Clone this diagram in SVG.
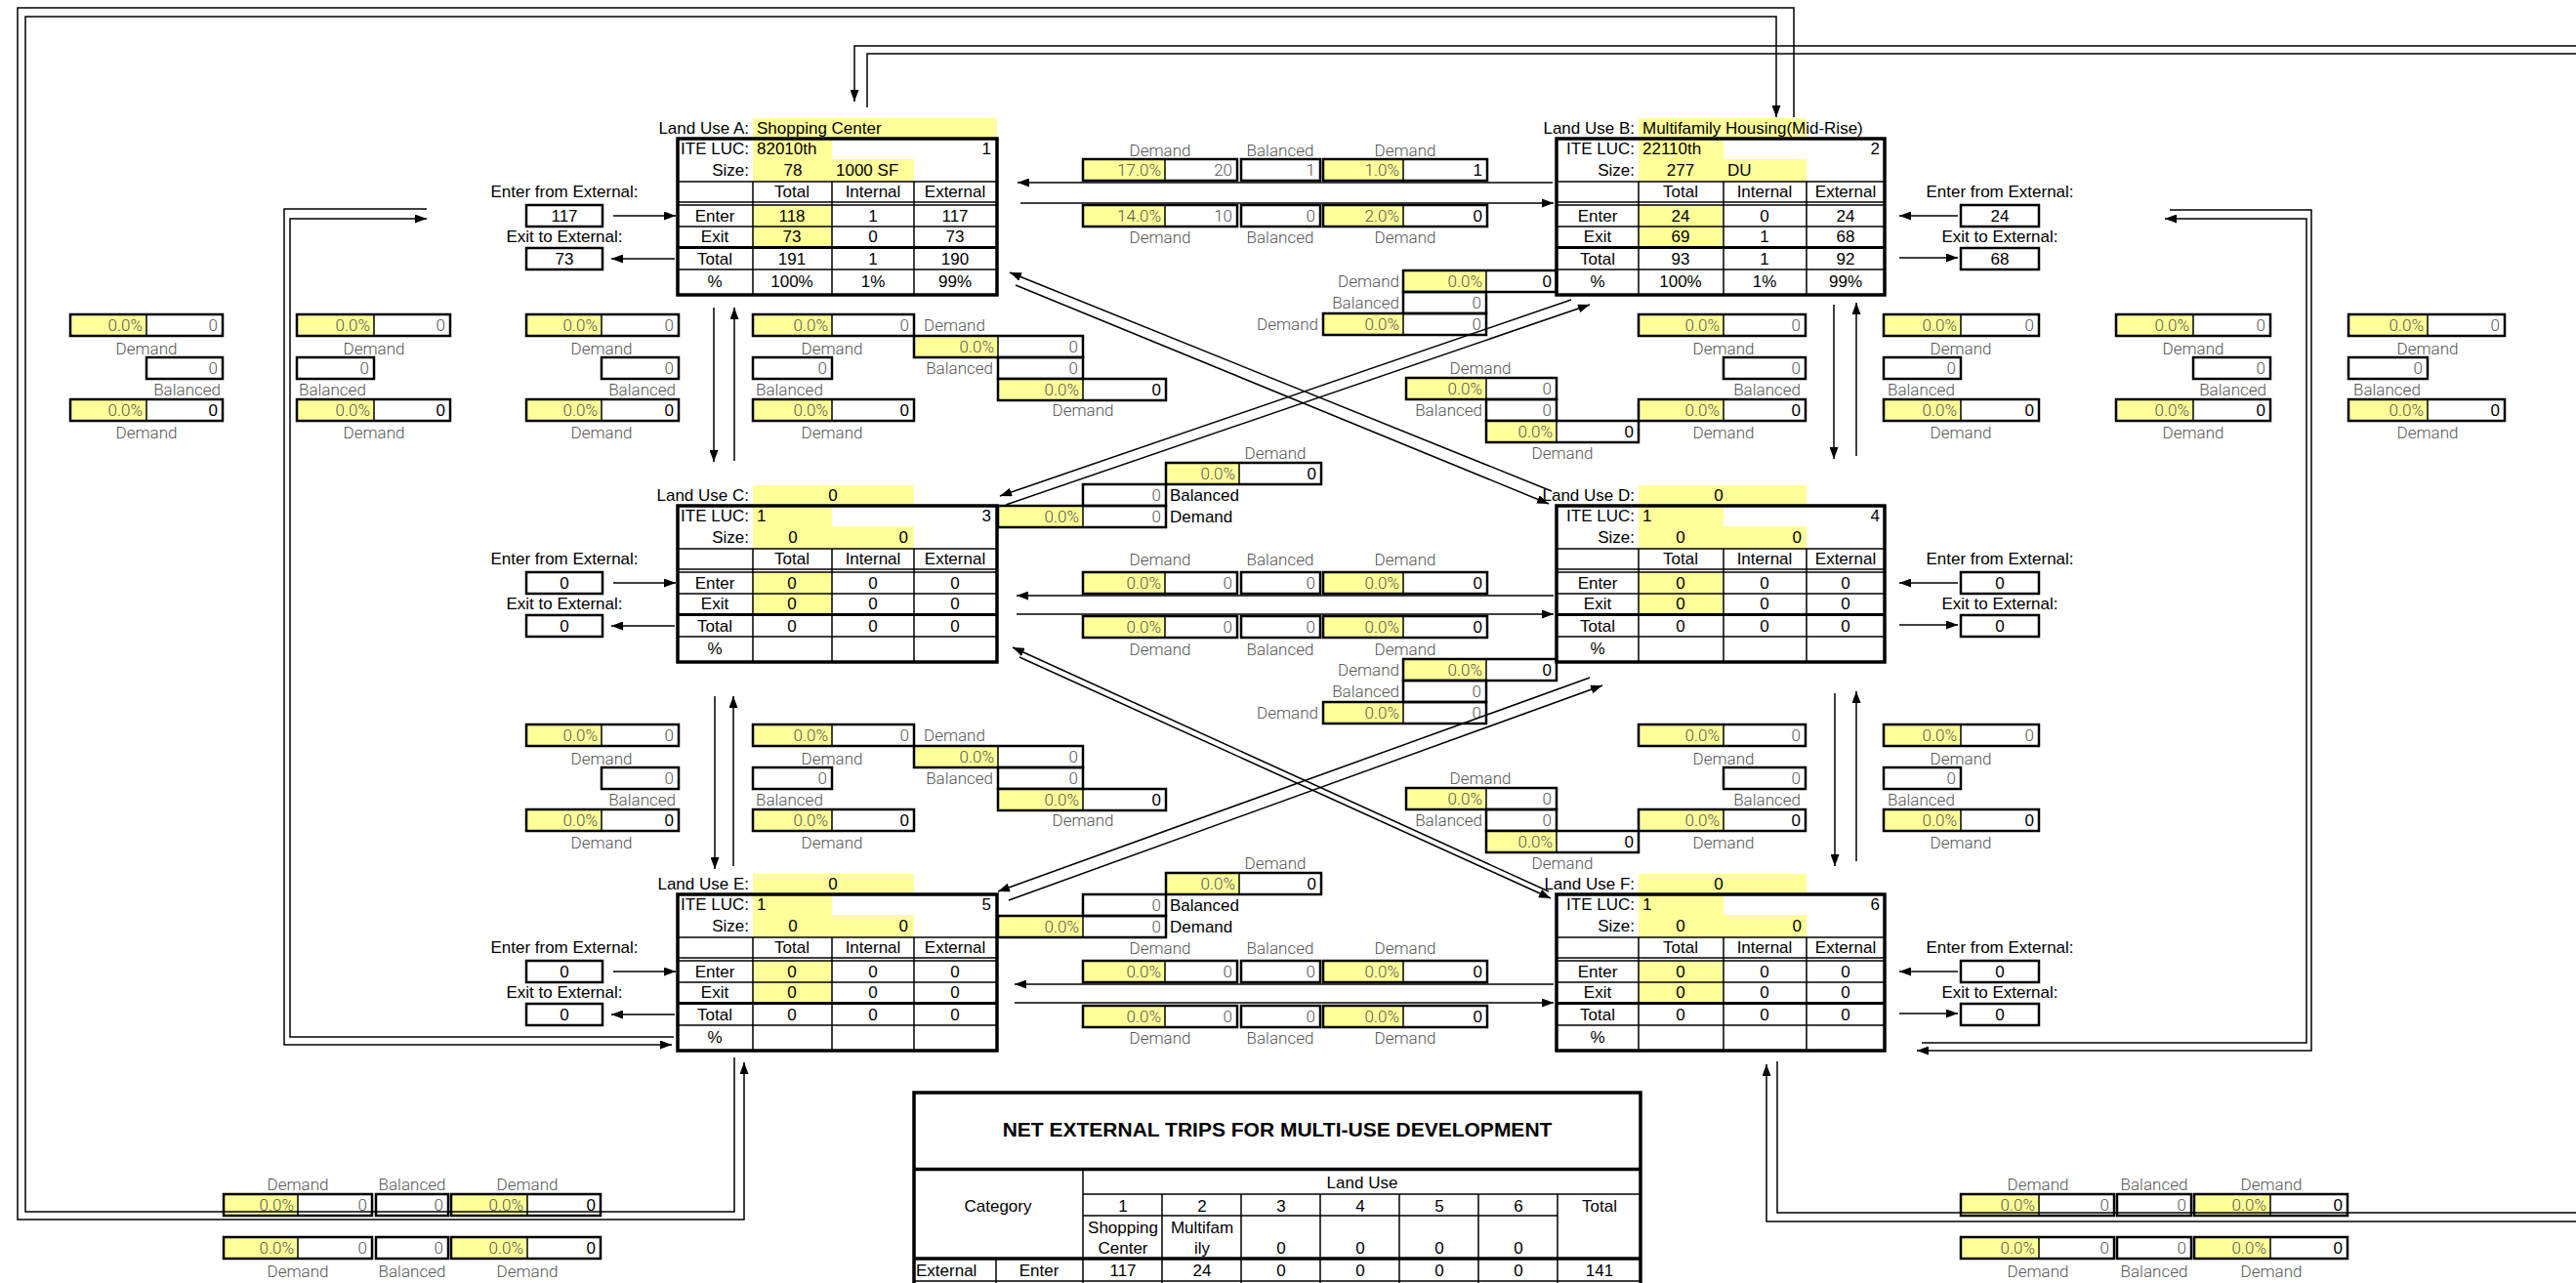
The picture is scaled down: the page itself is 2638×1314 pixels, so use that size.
<svg xmlns="http://www.w3.org/2000/svg" xmlns:xlink="http://www.w3.org/1999/xlink" width="2638" height="1314" viewBox="0 0 2638 1314">
<style>
.y{fill:#ffff99}
.bx{fill:none;stroke:#000;stroke-width:2.5}
.dv{fill:none;stroke:#000;stroke-width:1.5}
.tl{fill:none;stroke:#000;stroke-width:1.5}
.tk{fill:none;stroke:#000;stroke-width:3.5}
.t{font-family:"Liberation Sans",Arial,sans-serif;font-size:17px;fill:#000}
.g{font-family:Roboto,"Liberation Sans",sans-serif;font-weight:300;font-size:17px;fill:#555}
.c{text-anchor:middle}
.r{text-anchor:end}
.cn{fill:none;stroke:#000;stroke-width:1.5}
.ar{marker-end:url(#ah)}
.ttl{font-family:"Liberation Sans",Arial,sans-serif;font-size:21px;font-weight:bold;fill:#000}
</style>
<defs>
<marker id="ah" viewBox="0 0 12 9" refX="12" refY="4.5" markerWidth="12" markerHeight="9" orient="auto" markerUnits="userSpaceOnUse"><path d="M0,0L12,4.5L0,9z" fill="#000"/></marker>
</defs>
<rect width="2638" height="1314" fill="#fff"/>

<g id="land-use-a" transform="translate(0,142)">
<rect class="y" x="771" y="-21" width="250" height="21"/>
<rect class="y" x="771" y="0" width="81" height="21"/>
<rect class="y" x="771" y="21" width="165" height="23"/>
<rect class="y" x="771" y="68" width="81" height="43"/>
<rect class="tk" x="694" y="0" width="327" height="160"/>
<path class="tl" d="M694,44H1021M694,65H1021M694,68H1021M694,90H1021M694,134H1021M771,44V160M852,44V160M936,44V160"/>
<path d="M694,111.5H1021" stroke="#000" stroke-width="3"/>
<text class="t r" x="767" y="-5">Land Use A:</text><text class="t" x="775" y="-5">Shopping Center</text>
<text class="t r" x="767" y="16">ITE LUC:</text><text class="t" x="775" y="16">82010th</text><text class="t r" x="1015" y="16">1</text>
<text class="t r" x="767" y="38">Size:</text><text class="t c" x="812" y="38">78</text><text class="t" x="856" y="38">1000 SF</text>
<text class="t c" x="811" y="60">Total</text><text class="t c" x="894" y="60">Internal</text><text class="t c" x="978" y="60">External</text>
<text class="t c" x="732" y="85">Enter</text><text class="t c" x="811" y="85">118</text><text class="t c" x="894" y="85">1</text><text class="t c" x="978" y="85">117</text>
<text class="t c" x="732" y="106">Exit</text><text class="t c" x="811" y="106">73</text><text class="t c" x="894" y="106">0</text><text class="t c" x="978" y="106">73</text>
<text class="t c" x="732" y="129">Total</text><text class="t c" x="811" y="129">191</text><text class="t c" x="894" y="129">1</text><text class="t c" x="978" y="129">190</text>
<text class="t c" x="732" y="152">%</text><text class="t c" x="811" y="152">100%</text><text class="t c" x="894" y="152">1%</text><text class="t c" x="978" y="152">99%</text>
</g>

<g id="land-use-c" transform="translate(0,518)">
<rect class="y" x="771" y="-21" width="165" height="21"/>
<rect class="y" x="771" y="0" width="81" height="21"/>
<rect class="y" x="771" y="21" width="165" height="23"/>
<rect class="y" x="771" y="68" width="81" height="43"/>
<rect class="tk" x="694" y="0" width="327" height="160"/>
<path class="tl" d="M694,44H1021M694,65H1021M694,68H1021M694,90H1021M694,134H1021M771,44V160M852,44V160M936,44V160"/>
<path d="M694,111.5H1021" stroke="#000" stroke-width="3"/>
<text class="t r" x="767" y="-5">Land Use C:</text><text class="t c" x="853" y="-5">0</text>
<text class="t r" x="767" y="16">ITE LUC:</text><text class="t" x="775" y="16">1</text><text class="t r" x="1015" y="16">3</text>
<text class="t r" x="767" y="38">Size:</text><text class="t c" x="812" y="38">0</text><text class="t r" x="930" y="38">0</text>
<text class="t c" x="811" y="60">Total</text><text class="t c" x="894" y="60">Internal</text><text class="t c" x="978" y="60">External</text>
<text class="t c" x="732" y="85">Enter</text><text class="t c" x="811" y="85">0</text><text class="t c" x="894" y="85">0</text><text class="t c" x="978" y="85">0</text>
<text class="t c" x="732" y="106">Exit</text><text class="t c" x="811" y="106">0</text><text class="t c" x="894" y="106">0</text><text class="t c" x="978" y="106">0</text>
<text class="t c" x="732" y="129">Total</text><text class="t c" x="811" y="129">0</text><text class="t c" x="894" y="129">0</text><text class="t c" x="978" y="129">0</text>
<text class="t c" x="732" y="152">%</text>
</g>

<g id="land-use-e" transform="translate(0,916)">
<rect class="y" x="771" y="-21" width="165" height="21"/>
<rect class="y" x="771" y="0" width="81" height="21"/>
<rect class="y" x="771" y="21" width="165" height="23"/>
<rect class="y" x="771" y="68" width="81" height="43"/>
<rect class="tk" x="694" y="0" width="327" height="160"/>
<path class="tl" d="M694,44H1021M694,65H1021M694,68H1021M694,90H1021M694,134H1021M771,44V160M852,44V160M936,44V160"/>
<path d="M694,111.5H1021" stroke="#000" stroke-width="3"/>
<text class="t r" x="767" y="-5">Land Use E:</text><text class="t c" x="853" y="-5">0</text>
<text class="t r" x="767" y="16">ITE LUC:</text><text class="t" x="775" y="16">1</text><text class="t r" x="1015" y="16">5</text>
<text class="t r" x="767" y="38">Size:</text><text class="t c" x="812" y="38">0</text><text class="t r" x="930" y="38">0</text>
<text class="t c" x="811" y="60">Total</text><text class="t c" x="894" y="60">Internal</text><text class="t c" x="978" y="60">External</text>
<text class="t c" x="732" y="85">Enter</text><text class="t c" x="811" y="85">0</text><text class="t c" x="894" y="85">0</text><text class="t c" x="978" y="85">0</text>
<text class="t c" x="732" y="106">Exit</text><text class="t c" x="811" y="106">0</text><text class="t c" x="894" y="106">0</text><text class="t c" x="978" y="106">0</text>
<text class="t c" x="732" y="129">Total</text><text class="t c" x="811" y="129">0</text><text class="t c" x="894" y="129">0</text><text class="t c" x="978" y="129">0</text>
<text class="t c" x="732" y="152">%</text>
</g>

<g id="land-use-b" transform="translate(0,142)">
<rect class="y" x="1678" y="-21" width="172" height="21"/>
<rect class="y" x="1678" y="0" width="87" height="21"/>
<rect class="y" x="1678" y="21" width="172" height="23"/>
<rect class="y" x="1678" y="68" width="87" height="43"/>
<rect class="tk" x="1594" y="0" width="336" height="160"/>
<path class="tl" d="M1594,44H1930M1594,65H1930M1594,68H1930M1594,90H1930M1594,134H1930M1678,44V160M1765,44V160M1850,44V160"/>
<path d="M1594,111.5H1930" stroke="#000" stroke-width="3"/>
<text class="t r" x="1674" y="-5">Land Use B:</text><text class="t" x="1682" y="-5">Multifamily Housing(Mid-Rise)</text>
<text class="t r" x="1674" y="16">ITE LUC:</text><text class="t" x="1682" y="16">22110th</text><text class="t r" x="1925" y="16">2</text>
<text class="t r" x="1674" y="38">Size:</text><text class="t c" x="1721" y="38">277</text><text class="t" x="1769" y="38">DU</text>
<text class="t c" x="1721" y="60">Total</text><text class="t c" x="1807" y="60">Internal</text><text class="t c" x="1890" y="60">External</text>
<text class="t c" x="1636" y="85">Enter</text><text class="t c" x="1721" y="85">24</text><text class="t c" x="1807" y="85">0</text><text class="t c" x="1890" y="85">24</text>
<text class="t c" x="1636" y="106">Exit</text><text class="t c" x="1721" y="106">69</text><text class="t c" x="1807" y="106">1</text><text class="t c" x="1890" y="106">68</text>
<text class="t c" x="1636" y="129">Total</text><text class="t c" x="1721" y="129">93</text><text class="t c" x="1807" y="129">1</text><text class="t c" x="1890" y="129">92</text>
<text class="t c" x="1636" y="152">%</text><text class="t c" x="1721" y="152">100%</text><text class="t c" x="1807" y="152">1%</text><text class="t c" x="1890" y="152">99%</text>
</g>

<g id="land-use-d" transform="translate(0,518)">
<rect class="y" x="1678" y="-21" width="172" height="21"/>
<rect class="y" x="1678" y="0" width="87" height="21"/>
<rect class="y" x="1678" y="21" width="172" height="23"/>
<rect class="y" x="1678" y="68" width="87" height="43"/>
<rect class="tk" x="1594" y="0" width="336" height="160"/>
<path class="tl" d="M1594,44H1930M1594,65H1930M1594,68H1930M1594,90H1930M1594,134H1930M1678,44V160M1765,44V160M1850,44V160"/>
<path d="M1594,111.5H1930" stroke="#000" stroke-width="3"/>
<text class="t r" x="1674" y="-5">Land Use D:</text><text class="t c" x="1760" y="-5">0</text>
<text class="t r" x="1674" y="16">ITE LUC:</text><text class="t" x="1682" y="16">1</text><text class="t r" x="1925" y="16">4</text>
<text class="t r" x="1674" y="38">Size:</text><text class="t c" x="1721" y="38">0</text><text class="t r" x="1845" y="38">0</text>
<text class="t c" x="1721" y="60">Total</text><text class="t c" x="1807" y="60">Internal</text><text class="t c" x="1890" y="60">External</text>
<text class="t c" x="1636" y="85">Enter</text><text class="t c" x="1721" y="85">0</text><text class="t c" x="1807" y="85">0</text><text class="t c" x="1890" y="85">0</text>
<text class="t c" x="1636" y="106">Exit</text><text class="t c" x="1721" y="106">0</text><text class="t c" x="1807" y="106">0</text><text class="t c" x="1890" y="106">0</text>
<text class="t c" x="1636" y="129">Total</text><text class="t c" x="1721" y="129">0</text><text class="t c" x="1807" y="129">0</text><text class="t c" x="1890" y="129">0</text>
<text class="t c" x="1636" y="152">%</text>
</g>

<g id="land-use-f" transform="translate(0,916)">
<rect class="y" x="1678" y="-21" width="172" height="21"/>
<rect class="y" x="1678" y="0" width="87" height="21"/>
<rect class="y" x="1678" y="21" width="172" height="23"/>
<rect class="y" x="1678" y="68" width="87" height="43"/>
<rect class="tk" x="1594" y="0" width="336" height="160"/>
<path class="tl" d="M1594,44H1930M1594,65H1930M1594,68H1930M1594,90H1930M1594,134H1930M1678,44V160M1765,44V160M1850,44V160"/>
<path d="M1594,111.5H1930" stroke="#000" stroke-width="3"/>
<text class="t r" x="1674" y="-5">Land Use F:</text><text class="t c" x="1760" y="-5">0</text>
<text class="t r" x="1674" y="16">ITE LUC:</text><text class="t" x="1682" y="16">1</text><text class="t r" x="1925" y="16">6</text>
<text class="t r" x="1674" y="38">Size:</text><text class="t c" x="1721" y="38">0</text><text class="t r" x="1845" y="38">0</text>
<text class="t c" x="1721" y="60">Total</text><text class="t c" x="1807" y="60">Internal</text><text class="t c" x="1890" y="60">External</text>
<text class="t c" x="1636" y="85">Enter</text><text class="t c" x="1721" y="85">0</text><text class="t c" x="1807" y="85">0</text><text class="t c" x="1890" y="85">0</text>
<text class="t c" x="1636" y="106">Exit</text><text class="t c" x="1721" y="106">0</text><text class="t c" x="1807" y="106">0</text><text class="t c" x="1890" y="106">0</text>
<text class="t c" x="1636" y="129">Total</text><text class="t c" x="1721" y="129">0</text><text class="t c" x="1807" y="129">0</text><text class="t c" x="1890" y="129">0</text>
<text class="t c" x="1636" y="152">%</text>
</g>

<g id="external-a" transform="translate(0,142)">
<text class="t c" x="578" y="60">Enter from External:</text><rect class="bx" x="539" y="68" width="78" height="22"/><text class="t c" x="578" y="85">117</text>
<text class="t c" x="578" y="106">Exit to External:</text><rect class="bx" x="539" y="112" width="78" height="22"/><text class="t c" x="578" y="129">73</text>
</g>
<g id="external-c" transform="translate(0,518)">
<text class="t c" x="578" y="60">Enter from External:</text><rect class="bx" x="539" y="68" width="78" height="22"/><text class="t c" x="578" y="85">0</text>
<text class="t c" x="578" y="106">Exit to External:</text><rect class="bx" x="539" y="112" width="78" height="22"/><text class="t c" x="578" y="129">0</text>
</g>
<g id="external-e" transform="translate(0,916)">
<text class="t c" x="578" y="60">Enter from External:</text><rect class="bx" x="539" y="68" width="78" height="22"/><text class="t c" x="578" y="85">0</text>
<text class="t c" x="578" y="106">Exit to External:</text><rect class="bx" x="539" y="112" width="78" height="22"/><text class="t c" x="578" y="129">0</text>
</g>
<g id="external-b" transform="translate(0,142)">
<text class="t c" x="2048" y="60">Enter from External:</text><rect class="bx" x="2008" y="68" width="80" height="22"/><text class="t c" x="2048" y="85">24</text>
<text class="t c" x="2048" y="106">Exit to External:</text><rect class="bx" x="2008" y="112" width="80" height="22"/><text class="t c" x="2048" y="129">68</text>
</g>
<g id="external-d" transform="translate(0,518)">
<text class="t c" x="2048" y="60">Enter from External:</text><rect class="bx" x="2008" y="68" width="80" height="22"/><text class="t c" x="2048" y="85">0</text>
<text class="t c" x="2048" y="106">Exit to External:</text><rect class="bx" x="2008" y="112" width="80" height="22"/><text class="t c" x="2048" y="129">0</text>
</g>
<g id="external-f" transform="translate(0,916)">
<text class="t c" x="2048" y="60">Enter from External:</text><rect class="bx" x="2008" y="68" width="80" height="22"/><text class="t c" x="2048" y="85">0</text>
<text class="t c" x="2048" y="106">Exit to External:</text><rect class="bx" x="2008" y="112" width="80" height="22"/><text class="t c" x="2048" y="129">0</text>
</g>

<g id="ab-demand">
<text class="g c" x="1188" y="160">Demand</text><text class="g c" x="1311" y="160">Balanced</text><text class="g c" x="1439" y="160">Demand</text>
<rect class="y" x="1109" y="163" width="84" height="22"/><rect class="bx" x="1109" y="163" width="158" height="22"/><path class="dv" d="M1193,163v22"/><text class="g r" x="1189" y="180">17.0%</text><text class="g r" x="1262" y="180">20</text>
<rect class="bx" x="1271" y="163" width="81" height="22"/><text class="g r" x="1347" y="180">1</text>
<rect class="y" x="1355" y="163" width="82" height="22"/><rect class="bx" x="1355" y="163" width="168" height="22"/><path class="dv" d="M1437,163v22"/><text class="g r" x="1433" y="180">1.0%</text><text class="t r" x="1518" y="180">1</text>
<rect class="y" x="1109" y="210" width="84" height="22"/><rect class="bx" x="1109" y="210" width="158" height="22"/><path class="dv" d="M1193,210v22"/><text class="g r" x="1189" y="227">14.0%</text><text class="g r" x="1262" y="227">10</text>
<rect class="bx" x="1271" y="210" width="81" height="22"/><text class="g r" x="1347" y="227">0</text>
<rect class="y" x="1355" y="210" width="82" height="22"/><rect class="bx" x="1355" y="210" width="168" height="22"/><path class="dv" d="M1437,210v22"/><text class="g r" x="1433" y="227">2.0%</text><text class="t r" x="1518" y="227">0</text>
<text class="g c" x="1188" y="249">Demand</text><text class="g c" x="1311" y="249">Balanced</text><text class="g c" x="1439" y="249">Demand</text>
</g>

<g id="cd-demand">
<text class="g c" x="1188" y="579">Demand</text><text class="g c" x="1311" y="579">Balanced</text><text class="g c" x="1439" y="579">Demand</text>
<rect class="y" x="1109" y="586" width="84" height="22"/><rect class="bx" x="1109" y="586" width="158" height="22"/><path class="dv" d="M1193,586v22"/><text class="g r" x="1189" y="603">0.0%</text><text class="g r" x="1262" y="603">0</text>
<rect class="bx" x="1271" y="586" width="81" height="22"/><text class="g r" x="1347" y="603">0</text>
<rect class="y" x="1355" y="586" width="82" height="22"/><rect class="bx" x="1355" y="586" width="168" height="22"/><path class="dv" d="M1437,586v22"/><text class="g r" x="1433" y="603">0.0%</text><text class="t r" x="1518" y="603">0</text>
<rect class="y" x="1109" y="631" width="84" height="22"/><rect class="bx" x="1109" y="631" width="158" height="22"/><path class="dv" d="M1193,631v22"/><text class="g r" x="1189" y="648">0.0%</text><text class="g r" x="1262" y="648">0</text>
<rect class="bx" x="1271" y="631" width="81" height="22"/><text class="g r" x="1347" y="648">0</text>
<rect class="y" x="1355" y="631" width="82" height="22"/><rect class="bx" x="1355" y="631" width="168" height="22"/><path class="dv" d="M1437,631v22"/><text class="g r" x="1433" y="648">0.0%</text><text class="t r" x="1518" y="648">0</text>
<text class="g c" x="1188" y="671">Demand</text><text class="g c" x="1311" y="671">Balanced</text><text class="g c" x="1439" y="671">Demand</text>
</g>

<g id="ef-demand" transform="translate(0,398)">
<text class="g c" x="1188" y="579">Demand</text><text class="g c" x="1311" y="579">Balanced</text><text class="g c" x="1439" y="579">Demand</text>
<rect class="y" x="1109" y="586" width="84" height="22"/><rect class="bx" x="1109" y="586" width="158" height="22"/><path class="dv" d="M1193,586v22"/><text class="g r" x="1189" y="603">0.0%</text><text class="g r" x="1262" y="603">0</text>
<rect class="bx" x="1271" y="586" width="81" height="22"/><text class="g r" x="1347" y="603">0</text>
<rect class="y" x="1355" y="586" width="82" height="22"/><rect class="bx" x="1355" y="586" width="168" height="22"/><path class="dv" d="M1437,586v22"/><text class="g r" x="1433" y="603">0.0%</text><text class="t r" x="1518" y="603">0</text>
<rect class="y" x="1109" y="632" width="84" height="22"/><rect class="bx" x="1109" y="632" width="158" height="22"/><path class="dv" d="M1193,632v22"/><text class="g r" x="1189" y="649">0.0%</text><text class="g r" x="1262" y="649">0</text>
<rect class="bx" x="1271" y="632" width="81" height="22"/><text class="g r" x="1347" y="649">0</text>
<rect class="y" x="1355" y="632" width="82" height="22"/><rect class="bx" x="1355" y="632" width="168" height="22"/><path class="dv" d="M1437,632v22"/><text class="g r" x="1433" y="649">0.0%</text><text class="t r" x="1518" y="649">0</text>
<text class="g c" x="1188" y="671">Demand</text><text class="g c" x="1311" y="671">Balanced</text><text class="g c" x="1439" y="671">Demand</text>
</g>

<g id="clusters-ac">
<g id="cl-1">
<rect class="y" x="72" y="322" width="78" height="22"/><rect class="bx" x="72" y="322" width="156" height="22"/><path class="dv" d="M150,322v22"/><text class="g r" x="146" y="339">0.0%</text><text class="g r" x="223" y="339">0</text>
<text class="g c" x="150" y="363">Demand</text>
<rect class="bx" x="150" y="366" width="78" height="22"/><text class="g r" x="223" y="383">0</text>
<text class="g r" x="226" y="405">Balanced</text>
<rect class="y" x="72" y="409" width="78" height="22"/><rect class="bx" x="72" y="409" width="156" height="22"/><path class="dv" d="M150,409v22"/><text class="g r" x="146" y="426">0.0%</text><text class="t r" x="223" y="426">0</text>
<text class="g c" x="150" y="449">Demand</text>
</g>
<g id="cl-2">
<rect class="y" x="304" y="322" width="79" height="22"/><rect class="bx" x="304" y="322" width="157" height="22"/><path class="dv" d="M383,322v22"/><text class="g r" x="379" y="339">0.0%</text><text class="g r" x="456" y="339">0</text>
<text class="g c" x="383" y="363">Demand</text>
<rect class="bx" x="304" y="366" width="79" height="22"/><text class="g r" x="378" y="383">0</text>
<text class="g" x="306" y="405">Balanced</text>
<rect class="y" x="304" y="409" width="79" height="22"/><rect class="bx" x="304" y="409" width="157" height="22"/><path class="dv" d="M383,409v22"/><text class="g r" x="379" y="426">0.0%</text><text class="t r" x="456" y="426">0</text>
<text class="g c" x="383" y="449">Demand</text>
</g>
<g id="cl-3">
<rect class="y" x="539" y="322" width="77" height="22"/><rect class="bx" x="539" y="322" width="156" height="22"/><path class="dv" d="M616,322v22"/><text class="g r" x="612" y="339">0.0%</text><text class="g r" x="690" y="339">0</text>
<text class="g c" x="616" y="363">Demand</text>
<rect class="bx" x="616" y="366" width="79" height="22"/><text class="g r" x="690" y="383">0</text>
<text class="g r" x="692" y="405">Balanced</text>
<rect class="y" x="539" y="409" width="77" height="22"/><rect class="bx" x="539" y="409" width="156" height="22"/><path class="dv" d="M616,409v22"/><text class="g r" x="612" y="426">0.0%</text><text class="t r" x="690" y="426">0</text>
<text class="g c" x="616" y="449">Demand</text>
</g>
<g id="cl-4">
<rect class="y" x="771" y="322" width="81" height="22"/><rect class="bx" x="771" y="322" width="165" height="22"/><path class="dv" d="M852,322v22"/><text class="g r" x="848" y="339">0.0%</text><text class="g r" x="931" y="339">0</text>
<text class="g c" x="852" y="363">Demand</text>
<rect class="bx" x="771" y="366" width="81" height="22"/><text class="g r" x="847" y="383">0</text>
<text class="g" x="774" y="405">Balanced</text>
<rect class="y" x="771" y="409" width="81" height="22"/><rect class="bx" x="771" y="409" width="165" height="22"/><path class="dv" d="M852,409v22"/><text class="g r" x="848" y="426">0.0%</text><text class="t r" x="931" y="426">0</text>
<text class="g c" x="852" y="449">Demand</text>
</g>
<g id="cl-ld">
<text class="g" x="946" y="339">Demand</text>
<rect class="y" x="936" y="344" width="86" height="22"/><rect class="bx" x="936" y="344" width="173" height="22"/><path class="dv" d="M1022,344v22"/><text class="g r" x="1018" y="361">0.0%</text><text class="g r" x="1104" y="361">0</text>
<text class="g r" x="1017" y="383">Balanced</text>
<rect class="bx" x="1022" y="366" width="87" height="22"/><text class="g r" x="1104" y="383">0</text>
<rect class="y" x="1022" y="388" width="87" height="22"/><rect class="bx" x="1022" y="388" width="172" height="22"/><path class="dv" d="M1109,388v22"/><text class="g r" x="1105" y="405">0.0%</text><text class="t r" x="1189" y="405">0</text>
<text class="g c" x="1109" y="426">Demand</text>
</g>
<g id="cl-rd">
<text class="g c" x="1516" y="383">Demand</text>
<rect class="y" x="1440" y="387" width="82" height="22"/><rect class="bx" x="1440" y="387" width="154" height="22"/><path class="dv" d="M1522,387v22"/><text class="g r" x="1518" y="404">0.0%</text><text class="g r" x="1589" y="404">0</text>
<text class="g r" x="1518" y="426">Balanced</text>
<rect class="bx" x="1522" y="409" width="72" height="22"/><text class="g r" x="1589" y="426">0</text>
<rect class="y" x="1522" y="431" width="72" height="22"/><rect class="bx" x="1522" y="431" width="156" height="22"/><path class="dv" d="M1594,431v22"/><text class="g r" x="1590" y="448">0.0%</text><text class="t r" x="1673" y="448">0</text>
<text class="g c" x="1600" y="470">Demand</text>
</g>
<g id="cl-r1">
<rect class="y" x="1678" y="322" width="87" height="22"/><rect class="bx" x="1678" y="322" width="171" height="22"/><path class="dv" d="M1765,322v22"/><text class="g r" x="1761" y="339">0.0%</text><text class="g r" x="1844" y="339">0</text>
<text class="g c" x="1765" y="363">Demand</text>
<rect class="bx" x="1765" y="366" width="84" height="22"/><text class="g r" x="1844" y="383">0</text>
<text class="g r" x="1844" y="405">Balanced</text>
<rect class="y" x="1678" y="409" width="87" height="22"/><rect class="bx" x="1678" y="409" width="171" height="22"/><path class="dv" d="M1765,409v22"/><text class="g r" x="1761" y="426">0.0%</text><text class="t r" x="1844" y="426">0</text>
<text class="g c" x="1765" y="449">Demand</text>
</g>
<g id="cl-r2">
<rect class="y" x="1929" y="322" width="79" height="22"/><rect class="bx" x="1929" y="322" width="159" height="22"/><path class="dv" d="M2008,322v22"/><text class="g r" x="2004" y="339">0.0%</text><text class="g r" x="2083" y="339">0</text>
<text class="g c" x="2008" y="363">Demand</text>
<rect class="bx" x="1929" y="366" width="79" height="22"/><text class="g r" x="2003" y="383">0</text>
<text class="g" x="1933" y="405">Balanced</text>
<rect class="y" x="1929" y="409" width="79" height="22"/><rect class="bx" x="1929" y="409" width="159" height="22"/><path class="dv" d="M2008,409v22"/><text class="g r" x="2004" y="426">0.0%</text><text class="t r" x="2083" y="426">0</text>
<text class="g c" x="2008" y="449">Demand</text>
</g>
</g>
<g id="cl-r3">
<rect class="y" x="2167" y="322" width="79" height="22"/><rect class="bx" x="2167" y="322" width="158" height="22"/><path class="dv" d="M2246,322v22"/><text class="g r" x="2242" y="339">0.0%</text><text class="g r" x="2320" y="339">0</text>
<text class="g c" x="2246" y="363">Demand</text>
<rect class="bx" x="2246" y="366" width="79" height="22"/><text class="g r" x="2320" y="383">0</text>
<text class="g r" x="2321" y="405">Balanced</text>
<rect class="y" x="2167" y="409" width="79" height="22"/><rect class="bx" x="2167" y="409" width="158" height="22"/><path class="dv" d="M2246,409v22"/><text class="g r" x="2242" y="426">0.0%</text><text class="t r" x="2320" y="426">0</text>
<text class="g c" x="2246" y="449">Demand</text>
</g>
<g id="cl-r4">
<rect class="y" x="2405" y="322" width="81" height="22"/><rect class="bx" x="2405" y="322" width="160" height="22"/><path class="dv" d="M2486,322v22"/><text class="g r" x="2482" y="339">0.0%</text><text class="g r" x="2560" y="339">0</text>
<text class="g c" x="2486" y="363">Demand</text>
<rect class="bx" x="2405" y="366" width="81" height="22"/><text class="g r" x="2481" y="383">0</text>
<text class="g" x="2410" y="405">Balanced</text>
<rect class="y" x="2405" y="409" width="81" height="22"/><rect class="bx" x="2405" y="409" width="160" height="22"/><path class="dv" d="M2486,409v22"/><text class="g r" x="2482" y="426">0.0%</text><text class="t r" x="2560" y="426">0</text>
<text class="g c" x="2486" y="449">Demand</text>
</g>

<g id="clusters-ce" transform="translate(0,420)">
<use xlink:href="#cl-3"/><use xlink:href="#cl-4"/><use xlink:href="#cl-ld"/><use xlink:href="#cl-rd"/><use xlink:href="#cl-r1"/><use xlink:href="#cl-r2"/>
</g>

<g id="mid-ab">
<text class="g r" x="1433" y="294">Demand</text>
<rect class="y" x="1437" y="277" width="85" height="22"/><rect class="bx" x="1437" y="277" width="157" height="22"/><path class="dv" d="M1522,277v22"/><text class="g r" x="1518" y="294">0.0%</text><text class="t r" x="1589" y="294">0</text>
<text class="g r" x="1433" y="316">Balanced</text>
<rect class="bx" x="1437" y="299" width="85" height="22"/><text class="g r" x="1517" y="316">0</text>
<text class="g r" x="1350" y="338">Demand</text>
<rect class="y" x="1355" y="321" width="82" height="22"/><rect class="bx" x="1355" y="321" width="167" height="22"/><path class="dv" d="M1437,321v22"/><text class="g r" x="1433" y="338">0.0%</text><text class="g r" x="1517" y="338">0</text>
</g>
<g id="mid-cd" transform="translate(0,398)">
<text class="g r" x="1433" y="294">Demand</text>
<rect class="y" x="1437" y="277" width="85" height="22"/><rect class="bx" x="1437" y="277" width="157" height="22"/><path class="dv" d="M1522,277v22"/><text class="g r" x="1518" y="294">0.0%</text><text class="t r" x="1589" y="294">0</text>
<text class="g r" x="1433" y="316">Balanced</text>
<rect class="bx" x="1437" y="299" width="85" height="22"/><text class="g r" x="1517" y="316">0</text>
<text class="g r" x="1350" y="338">Demand</text>
<rect class="y" x="1355" y="321" width="82" height="22"/><rect class="bx" x="1355" y="321" width="167" height="22"/><path class="dv" d="M1437,321v22"/><text class="g r" x="1433" y="338">0.0%</text><text class="g r" x="1517" y="338">0</text>
</g>

<g id="top-c">
<text class="g c" x="1306" y="470">Demand</text>
<rect class="y" x="1194" y="474" width="75" height="22"/><rect class="bx" x="1194" y="474" width="159" height="22"/><path class="dv" d="M1269,474v22"/><text class="g r" x="1265" y="491">0.0%</text><text class="t r" x="1348" y="491">0</text>
<rect class="bx" x="1109" y="496" width="85" height="22"/><text class="g r" x="1189" y="513">0</text><text class="t" x="1198" y="513">Balanced</text>
<rect class="y" x="1022" y="518" width="87" height="22"/><rect class="bx" x="1022" y="518" width="172" height="22"/><path class="dv" d="M1109,518v22"/><text class="g r" x="1105" y="535">0.0%</text><text class="g r" x="1189" y="535">0</text><text class="t" x="1198" y="535">Demand</text>
</g>
<g id="top-e" transform="translate(0,420)">
<text class="g c" x="1306" y="470">Demand</text>
<rect class="y" x="1194" y="474" width="75" height="22"/><rect class="bx" x="1194" y="474" width="159" height="22"/><path class="dv" d="M1269,474v22"/><text class="g r" x="1265" y="491">0.0%</text><text class="t r" x="1348" y="491">0</text>
<rect class="bx" x="1109" y="496" width="85" height="22"/><text class="g r" x="1189" y="513">0</text><text class="t" x="1198" y="513">Balanced</text>
<rect class="y" x="1022" y="518" width="87" height="22"/><rect class="bx" x="1022" y="518" width="172" height="22"/><path class="dv" d="M1109,518v22"/><text class="g r" x="1105" y="535">0.0%</text><text class="g r" x="1189" y="535">0</text><text class="t" x="1198" y="535">Demand</text>
</g>

<g id="bottom-left">
<text class="g c" x="305" y="1219">Demand</text><text class="g c" x="422" y="1219">Balanced</text><text class="g c" x="540" y="1219">Demand</text>
<rect class="y" x="229" y="1223" width="76" height="22"/><rect class="bx" x="229" y="1223" width="152" height="22"/><path class="dv" d="M305,1223v22"/><text class="g r" x="301" y="1240">0.0%</text><text class="g r" x="376" y="1240">0</text>
<rect class="bx" x="385" y="1223" width="74" height="22"/><text class="g r" x="454" y="1240">0</text>
<rect class="y" x="462" y="1223" width="78" height="22"/><rect class="bx" x="462" y="1223" width="153" height="22"/><path class="dv" d="M540,1223v22"/><text class="g r" x="536" y="1240">0.0%</text><text class="t r" x="610" y="1240">0</text>
<rect class="y" x="229" y="1267" width="76" height="22"/><rect class="bx" x="229" y="1267" width="152" height="22"/><path class="dv" d="M305,1267v22"/><text class="g r" x="301" y="1284">0.0%</text><text class="g r" x="376" y="1284">0</text>
<rect class="bx" x="385" y="1267" width="74" height="22"/><text class="g r" x="454" y="1284">0</text>
<rect class="y" x="462" y="1267" width="78" height="22"/><rect class="bx" x="462" y="1267" width="153" height="22"/><path class="dv" d="M540,1267v22"/><text class="g r" x="536" y="1284">0.0%</text><text class="t r" x="610" y="1284">0</text>
<text class="g c" x="305" y="1308">Demand</text><text class="g c" x="422" y="1308">Balanced</text><text class="g c" x="540" y="1308">Demand</text>
</g>
<g id="bottom-right">
<text class="g c" x="2087" y="1219">Demand</text><text class="g c" x="2206" y="1219">Balanced</text><text class="g c" x="2326" y="1219">Demand</text>
<rect class="y" x="2008" y="1223" width="80" height="22"/><rect class="bx" x="2008" y="1223" width="157" height="22"/><path class="dv" d="M2088,1223v22"/><text class="g r" x="2084" y="1240">0.0%</text><text class="g r" x="2160" y="1240">0</text>
<rect class="bx" x="2168" y="1223" width="76" height="22"/><text class="g r" x="2239" y="1240">0</text>
<rect class="y" x="2247" y="1223" width="78" height="22"/><rect class="bx" x="2247" y="1223" width="157" height="22"/><path class="dv" d="M2325,1223v22"/><text class="g r" x="2321" y="1240">0.0%</text><text class="t r" x="2399" y="1240">0</text>
<rect class="y" x="2008" y="1267" width="80" height="22"/><rect class="bx" x="2008" y="1267" width="157" height="22"/><path class="dv" d="M2088,1267v22"/><text class="g r" x="2084" y="1284">0.0%</text><text class="g r" x="2160" y="1284">0</text>
<rect class="bx" x="2168" y="1267" width="76" height="22"/><text class="g r" x="2239" y="1284">0</text>
<rect class="y" x="2247" y="1267" width="78" height="22"/><rect class="bx" x="2247" y="1267" width="157" height="22"/><path class="dv" d="M2325,1267v22"/><text class="g r" x="2321" y="1284">0.0%</text><text class="t r" x="2399" y="1284">0</text>
<text class="g c" x="2087" y="1308">Demand</text><text class="g c" x="2206" y="1308">Balanced</text><text class="g c" x="2326" y="1308">Demand</text>
</g>

<g id="net-external-trips">
<rect class="tk" x="936" y="1119" width="744" height="210"/>
<path d="M936,1197.5H1680M936,1289H1680" stroke="#000" stroke-width="3.5"/>
<path class="tl" d="M1109,1198V1320M1109,1223H1680M1190,1223V1320M1271,1223V1320M1352,1223V1320M1433,1223V1320M1514,1223V1320M1595,1223V1320M1109,1245H1595M1020,1289V1320M936,1312H1680"/>
<text class="ttl c" x="1308" y="1164">NET EXTERNAL TRIPS FOR MULTI-USE DEVELOPMENT</text>
<text class="t c" x="1022" y="1241">Category</text>
<text class="t c" x="1395" y="1217">Land Use</text>
<text class="t c" x="1150" y="1241">1</text><text class="t c" x="1231" y="1241">2</text><text class="t c" x="1312" y="1241">3</text><text class="t c" x="1393" y="1241">4</text><text class="t c" x="1474" y="1241">5</text><text class="t c" x="1555" y="1241">6</text><text class="t c" x="1638" y="1241">Total</text>
<text class="t c" x="1150" y="1263">Shopping</text><text class="t c" x="1150" y="1284">Center</text>
<text class="t c" x="1231" y="1263">Multifam</text><text class="t c" x="1231" y="1284">ily</text>
<text class="t c" x="1312" y="1284">0</text><text class="t c" x="1393" y="1284">0</text><text class="t c" x="1474" y="1284">0</text><text class="t c" x="1555" y="1284">0</text>
<text class="t" x="938" y="1307">External</text><text class="t c" x="1064" y="1307">Enter</text>
<text class="t c" x="1150" y="1307">117</text><text class="t c" x="1231" y="1307">24</text><text class="t c" x="1312" y="1307">0</text><text class="t c" x="1393" y="1307">0</text><text class="t c" x="1474" y="1307">0</text><text class="t c" x="1555" y="1307">0</text><text class="t c" x="1638" y="1307">141</text>
</g>

<g id="connectors" class="cn">
<path class="ar" d="M1045,208H1591"/>
<path class="ar" d="M1590,187H1042"/>
<path class="ar" d="M1591,610H1041"/>
<path class="ar" d="M1041,629H1591"/>
<path class="ar" d="M1591,1008H1039"/>
<path class="ar" d="M1039,1027H1591"/>
<path class="ar" d="M731,315V473"/>
<path class="ar" d="M752,472V315"/>
<path class="ar" d="M732,713V890"/>
<path class="ar" d="M751,887V713"/>
<path class="ar" d="M1878,312V470"/>
<path class="ar" d="M1901,467V310"/>
<path class="ar" d="M1879,710V887"/>
<path class="ar" d="M1901,882V708"/>
<path class="ar" d="M1040,292L1586,516"/>
<path class="ar" d="M1589,503L1034,279"/>
<path class="ar" d="M1609,307L1024,508"/>
<path class="ar" d="M1030,517L1628,312"/>
<path class="ar" d="M1044,673L1588,920"/>
<path class="ar" d="M1586,913L1037,663"/>
<path class="ar" d="M1628,694L1022,913"/>
<path class="ar" d="M1033,922L1641,702"/>
<path class="ar" d="M628,221H692"/><path class="ar" d="M691,265H626"/>
<path class="ar" d="M628,597H692"/><path class="ar" d="M691,641H626"/>
<path class="ar" d="M628,995H692"/><path class="ar" d="M691,1039H626"/>
<path class="ar" d="M2005,221H1945"/><path class="ar" d="M1945,264H2005"/>
<path class="ar" d="M2005,597H1945"/><path class="ar" d="M1945,640H2005"/>
<path class="ar" d="M2005,995H1945"/><path class="ar" d="M1945,1038H2005"/>
<path class="ar" d="M752,1083V1241H26V17H1819V120"/>
<path class="ar" d="M1837,120V8H18V1249H762V1088"/>
<path class="ar" d="M437,214H291V1070H688"/>
<path class="ar" d="M690,1062H297V224H437"/>
<path class="ar" d="M2222,215H2367V1076H1963"/>
<path class="ar" d="M1968,1068H2362V224H2217"/>
<path class="ar" d="M2638,47H875V104"/>
<path d="M888,110V55H2638"/>
<path d="M1820,1087V1242H2638"/>
<path class="ar" d="M2638,1251H1809V1090"/>
</g>
</svg>
